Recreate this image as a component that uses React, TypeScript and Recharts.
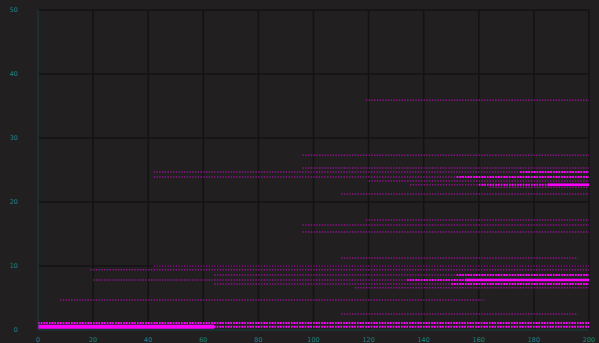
import { LineChart, Line, XAxis, YAxis, CartesianGrid } from "recharts";

// each row is a horizontal run of dots: value on y, running from start to end on x
const faintValues = [35.9, 27.3, 25.3, 24.7, 23.9, 23.3, 22.7, 22.3, 21.25, 17.2, 16.4, 15.3, 11.25, 10, 9.4, 8.6, 7.8, 7.2, 6.6, 4.7, 2.5, 1.1, 0.5];
const faintStarts = [119, 96, 96, 42, 42, 120, 135, 164, 110, 119, 96, 96, 110, 42, 19, 64, 20, 64, 115, 8, 110, 0, 0];
const faintEnds = [200, 200, 200, 200, 200, 200, 200, 200, 200, 200, 200, 200, 196, 200, 200, 200, 200, 200, 200, 162, 196, 200, 200];

const brightValues = [0.5, 1.1, 7.8, 7.2, 8.6, 22.7, 23.9, 24.7];
const brightStarts = [0, 0, 134, 150, 152, 160, 152, 175];
const brightEnds = [200, 200, 200, 200, 200, 200, 200, 200];

const denseValues = [22.7, 7.8];
const denseStarts = [185, 155];
const denseEnds = [200, 200];

const heavyValues = [0.5];
const heavyStarts = [0];
const heavyEnds = [64];

const xTicks = [0, 20, 40, 60, 80, 100, 120, 140, 160, 180, 200];
const yTicks = [0, 10, 20, 30, 40, 50];

type Pt = { x: number; y: number };
const makeRows = (vals: number[], starts: number[], ends: number[]): Pt[][] =>
  vals.map((v, i) => [
    { x: starts[i], y: v },
    { x: ends[i], y: v },
  ]);

const faintRows = makeRows(faintValues, faintStarts, faintEnds);
const brightRows = makeRows(brightValues, brightStarts, brightEnds);
const denseRows = makeRows(denseValues, denseStarts, denseEnds);
const heavyRows = makeRows(heavyValues, heavyStarts, heavyEnds);

const teal = "#1d4b4b";
const tickStyle = { fill: "#1a8585", fontSize: 6.5, fontFamily: "DejaVu Sans" };

export default function App() {
  return (
    <div style={{ position: "fixed", left: 0, top: 0, width: 599, height: 343, background: "#221f20" }}>
      <LineChart width={599} height={343} margin={{ top: 10, right: 10, left: 0, bottom: 1 }}>
        <CartesianGrid stroke="#141314" strokeWidth={1.5} />
        <XAxis
          type="number"
          dataKey="x"
          domain={[0, 200]}
          ticks={xTicks}
          height={12}
          stroke={teal}
          tickLine={false}
          tick={tickStyle}
          tickMargin={1}
          allowDuplicatedCategory={false}
        />
        <XAxis xAxisId="top" orientation="top" type="number" domain={[0, 200]} height={0} tick={false} tickLine={false} stroke={teal} />
        <YAxis
          type="number"
          domain={[0, 50]}
          ticks={yTicks}
          width={38}
          stroke={teal}
          tickLine={false}
          tick={tickStyle}
          tickMargin={14}
        />
        <YAxis yAxisId="right" orientation="right" domain={[0, 50]} width={0} tick={false} tickLine={false} stroke={teal} />
        {faintRows.map((d, i) => (
          <Line
            key={"f" + i}
            data={d}
            dataKey="y"
            stroke="#b010b0"
            strokeOpacity={0.75}
            strokeWidth={1.5}
            strokeDasharray="1.4 1.35"
            dot={false}
            isAnimationActive={false}
          />
        ))}
        {brightRows.map((d, i) => (
          <Line
            key={"b" + i}
            data={d}
            dataKey="y"
            stroke="#ff00ff"
            strokeWidth={2}
            strokeDasharray="1.6 1.15"
            dot={false}
            isAnimationActive={false}
          />
        ))}
        {denseRows.map((d, i) => (
          <Line
            key={"d" + i}
            data={d}
            dataKey="y"
            stroke="#ff00ff"
            strokeWidth={2.5}
            dot={false}
            isAnimationActive={false}
          />
        ))}
        {heavyRows.map((d, i) => (
          <Line
            key={"h" + i}
            data={d}
            dataKey="y"
            stroke="#ff00ff"
            strokeWidth={4}
            dot={false}
            isAnimationActive={false}
          />
        ))}
      </LineChart>
    </div>
  );
}
